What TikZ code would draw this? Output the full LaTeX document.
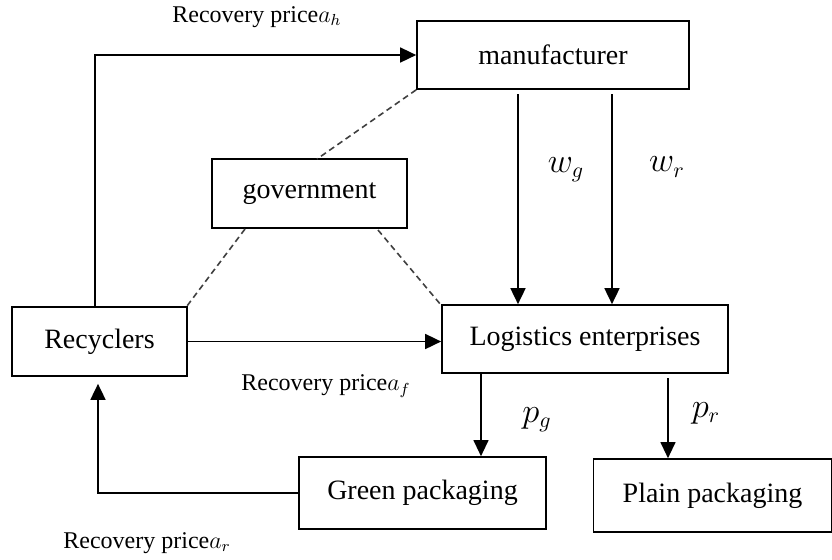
\documentclass[tikz,border=0pt]{standalone}
\usepackage{fontspec}
\setmainfont{Liberation Serif}
\usetikzlibrary{arrows.meta}
\begin{document}
\begin{tikzpicture}[x=0.5pt,y=-0.5pt,
  box/.style={draw,line width=0.85pt,inner sep=0pt,font=\fontsize{14}{16}\selectfont},
  arr/.style={line width=0.85pt,-{Triangle[length=8pt,width=7.5pt]}},
  thinarr/.style={line width=0.6pt,-{Triangle[length=8pt,width=7.5pt]}},
  dsh/.style={line width=0.8pt,draw=black!75,dash pattern=on 3pt off 2pt},
  lbl/.style={inner sep=0pt,font=\fontsize{12}{14}\selectfont},
  mlbl/.style={inner sep=0pt,font=\fontsize{16}{18}\selectfont}]
\useasboundingbox (0,0) rectangle (832,559);
\node[box,minimum width=136pt,minimum height=34pt] (man) at (553,55) {manufacturer};
\node[box,minimum width=97.5pt,minimum height=34.5pt] (gov) at (309.5,193.5) {government};
\node[box,minimum width=87.5pt,minimum height=34.5pt] (rec) at (99.5,341.5) {Recyclers};
\node[box,minimum width=143pt,minimum height=34pt] (log) at (585,339) {Logistics enterprises};
\node[box,minimum width=123.5pt,minimum height=36pt] (green) at (422.5,493) {Green packaging};
\node[box,minimum width=119pt,minimum height=36.5pt] (plain) at (712.5,495.5) {Plain packaging};
% labels
\node[lbl,anchor=west] (lh) at (172,17) {Recovery price$a_h$};
\node[lbl,anchor=west] (lf) at (241,386) {Recovery price$a_f$};
\node[lbl,anchor=west] (lr) at (63,543) {Recovery price$a_r$};
\node[mlbl] (wg) at (566,170) {$w_g$};
\node[mlbl] (wr) at (667,167) {$w_r$};
\node[mlbl] (pg) at (537,420) {$p_g$};
\node[mlbl] (pr) at (706,413) {$p_r$};
% coordinates
\coordinate (c1) at (95,55);
\coordinate (c2) at (518,94);
\coordinate (c3) at (612,94);
\coordinate (c4) at (481,373);
\coordinate (c5) at (668,378);
\coordinate (c6) at (98,500);
\coordinate (g1) at (317,159);
\coordinate (g2) at (245,229);
\coordinate (r1) at (187,306);
\coordinate (g3) at (378,230);
\coordinate (l1) at (441,305);
% connectors
\draw[arr] (rec.north -| c1) |- (man.west);
\draw[arr] (c2) -- (c2 |- log.north);
\draw[arr] (c3) -- (c3 |- log.north);
\draw[arr] (rec.east) -- (rec.east -| log.west);
\draw[thinarr] (c4) -- (c4 |- green.north);
\draw[thinarr] (c5) -- (c5 |- plain.north);
\draw[arr,shorten >=3.5pt] (green.west) -| (c6 |- rec.south);
\draw[dsh] (man.south west) -- (g1);
\draw[dsh] (g2) -- (r1);
\draw[dsh] (g3) -- (l1);
\end{tikzpicture}
\end{document}
